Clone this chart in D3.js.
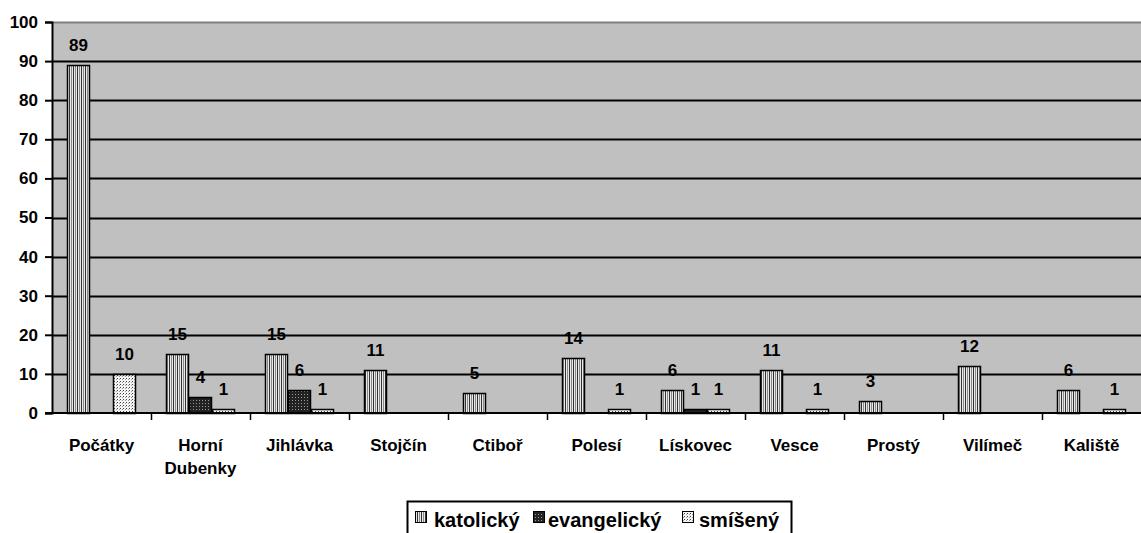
<!DOCTYPE html>
<html>
<head>
<meta charset="utf-8">
<script src="https://cdn.jsdelivr.net/npm/d3@7"></script>
<style>
  body { margin: 0; background: #fff; }
  text { font-family: Arial, "Liberation Sans", sans-serif; font-weight: bold; }
</style>
</head>
<body>
<div id="chart"></div>
<script>
// data
var categories = ["Počátky", "Horní Dubenky", "Jihlávka", "Stojčín", "Ctiboř", "Polesí",
                  "Lískovec", "Vesce", "Prostý", "Vilímeč", "Kaliště"];
var seriesNames = ["katolický", "evangelický", "smíšený"];
var katolicky   = [89, 15, 15, 11, 5, 14, 6, 11, 3, 12, 6];
var evangelicky = [0, 4, 6, 0, 0, 0, 1, 0, 0, 0, 0];
var smiseny     = [10, 1, 1, 0, 0, 1, 1, 1, 0, 0, 1];
var yTicks = [0, 10, 20, 30, 40, 50, 60, 70, 80, 90, 100];

var series = [katolicky, evangelicky, smiseny];

var width = 1141, height = 533;
var margin = {top: 22, right: 0, bottom: 120, left: 52};

var svg = d3.select("#chart").append("svg")
    .attr("width", width)
    .attr("height", height);

// fill patterns
var defs = svg.append("defs");

var p1 = defs.append("pattern").attr("id", "pat0")
    .attr("patternUnits", "userSpaceOnUse").attr("width", 4).attr("height", 4);
p1.append("rect").attr("width", 4).attr("height", 4).attr("fill", "#e8e8e8");
p1.append("rect").attr("x", 1).attr("width", 1).attr("height", 4).attr("fill", "#333");
p1.append("rect").attr("x", 3).attr("width", 1).attr("height", 4).attr("fill", "#888");

var p2 = defs.append("pattern").attr("id", "pat1")
    .attr("patternUnits", "userSpaceOnUse").attr("width", 3).attr("height", 3);
p2.append("rect").attr("width", 3).attr("height", 3).attr("fill", "#222");
p2.append("rect").attr("x", 1).attr("y", 1).attr("width", 1).attr("height", 1).attr("fill", "#999");

var p3 = defs.append("pattern").attr("id", "pat2")
    .attr("patternUnits", "userSpaceOnUse").attr("width", 3).attr("height", 3);
p3.append("rect").attr("width", 3).attr("height", 3).attr("fill", "#f4f4f4");
p3.append("rect").attr("x", 0).attr("y", 0).attr("width", 1).attr("height", 1).attr("fill", "#444");
p3.append("rect").attr("x", 2).attr("y", 1).attr("width", 1).attr("height", 1).attr("fill", "#999");

var x0 = d3.scaleBand()
    .domain(categories)
    .range([margin.left, width - margin.right])
    .paddingInner(0).paddingOuter(0);

var x1 = d3.scaleBand()
    .domain([0, 1, 2])
    .range([15, x0.bandwidth() - 15]);

var y = d3.scaleLinear()
    .domain([0, 100])
    .range([height - margin.bottom, margin.top]);

// plot background
svg.append("rect")
    .attr("x", margin.left).attr("y", margin.top)
    .attr("width", width - margin.left - margin.right)
    .attr("height", y(0) - margin.top)
    .attr("fill", "#c0c0c0");

svg.append("line")
    .attr("x1", margin.left).attr("x2", width)
    .attr("y1", margin.top + 0.5).attr("y2", margin.top + 0.5)
    .attr("stroke", "#808080").attr("stroke-width", 2);

// gridlines
svg.selectAll(".grid").data(yTicks.filter(function(d){ return d > 0 && d < 100; }))
    .enter().append("line")
    .attr("x1", margin.left).attr("x2", width)
    .attr("y1", function(d){ return Math.round(y(d)) + 0.5; })
    .attr("y2", function(d){ return Math.round(y(d)) + 0.5; })
    .attr("stroke", "#000").attr("stroke-width", 2);

// bars
categories.forEach(function(c, i) {
    series.forEach(function(s, j) {
        var v = s[i];
        if (v <= 0) return;
        var bx = x0(c) + x1(j);
        svg.append("rect")
            .attr("x", bx + 0.5)
            .attr("y", Math.round(y(v)) + 0.5)
            .attr("width", x1.bandwidth() - 1)
            .attr("height", Math.round(y(0)) - Math.round(y(v)))
            .attr("fill", "url(#pat" + j + ")")
            .attr("stroke", "#000").attr("stroke-width", 1.5);
        svg.append("text")
            .attr("x", bx + x1.bandwidth() / 2)
            .attr("y", y(v) - 14)
            .attr("text-anchor", "middle")
            .attr("font-size", "17px")
            .text(v);
    });
});

// y axis
var yAxis = svg.append("g")
    .attr("transform", "translate(" + margin.left + ",0)")
    .call(d3.axisLeft(y).tickValues(yTicks).tickSize(7).tickPadding(7));
yAxis.select(".domain").attr("stroke", "#000").attr("stroke-width", 2);
yAxis.selectAll(".tick line").attr("stroke", "#000").attr("stroke-width", 2);
yAxis.selectAll("text").attr("font-size", "17px").attr("fill", "#000")
    .attr("font-family", "Arial, 'Liberation Sans', sans-serif").attr("font-weight", "bold");

// x axis
svg.append("line")
    .attr("x1", margin.left - 7).attr("x2", width)
    .attr("y1", y(0)).attr("y2", y(0))
    .attr("stroke", "#000").attr("stroke-width", 2);

svg.selectAll(".xtick").data(categories.slice(1))
    .enter().append("line")
    .attr("x1", function(d){ return x0(d) + 0.5; })
    .attr("x2", function(d){ return x0(d) + 0.5; })
    .attr("y1", y(0)).attr("y2", y(0) + 7)
    .attr("stroke", "#000").attr("stroke-width", 1.5);

svg.selectAll(".xlabel").data(categories)
    .enter().append("text")
    .attr("text-anchor", "middle")
    .attr("font-size", "17px")
    .attr("x", function(d){ return x0(d) + x0.bandwidth() / 2; })
    .attr("y", y(0) + 38)
    .each(function(d) {
        var t = d3.select(this);
        var parts = d === "Horní Dubenky" ? ["Horní", "Dubenky"] : [d];
        parts.forEach(function(p, k) {
            t.append("tspan")
                .attr("x", x0(d) + x0.bandwidth() / 2)
                .attr("dy", k === 0 ? 0 : 23)
                .text(p);
        });
    });

// legend
var legend = svg.append("g");
legend.append("rect")
    .attr("x", 407.5).attr("y", 501.5)
    .attr("width", 384).attr("height", 40)
    .attr("fill", "#fff").attr("stroke", "#000").attr("stroke-width", 2);

var lx = [415, 533, 682];
var tx = [434, 548, 699];
seriesNames.forEach(function(n, j) {
    legend.append("rect")
        .attr("x", lx[j] + 0.5).attr("y", 511.5)
        .attr("width", 11).attr("height", 11)
        .attr("fill", "url(#pat" + j + ")")
        .attr("stroke", "#000").attr("stroke-width", 1);
    legend.append("text")
        .attr("x", tx[j]).attr("y", 527)
        .attr("font-size", "20px")
        .text(n);
});
</script>
</body>
</html>
